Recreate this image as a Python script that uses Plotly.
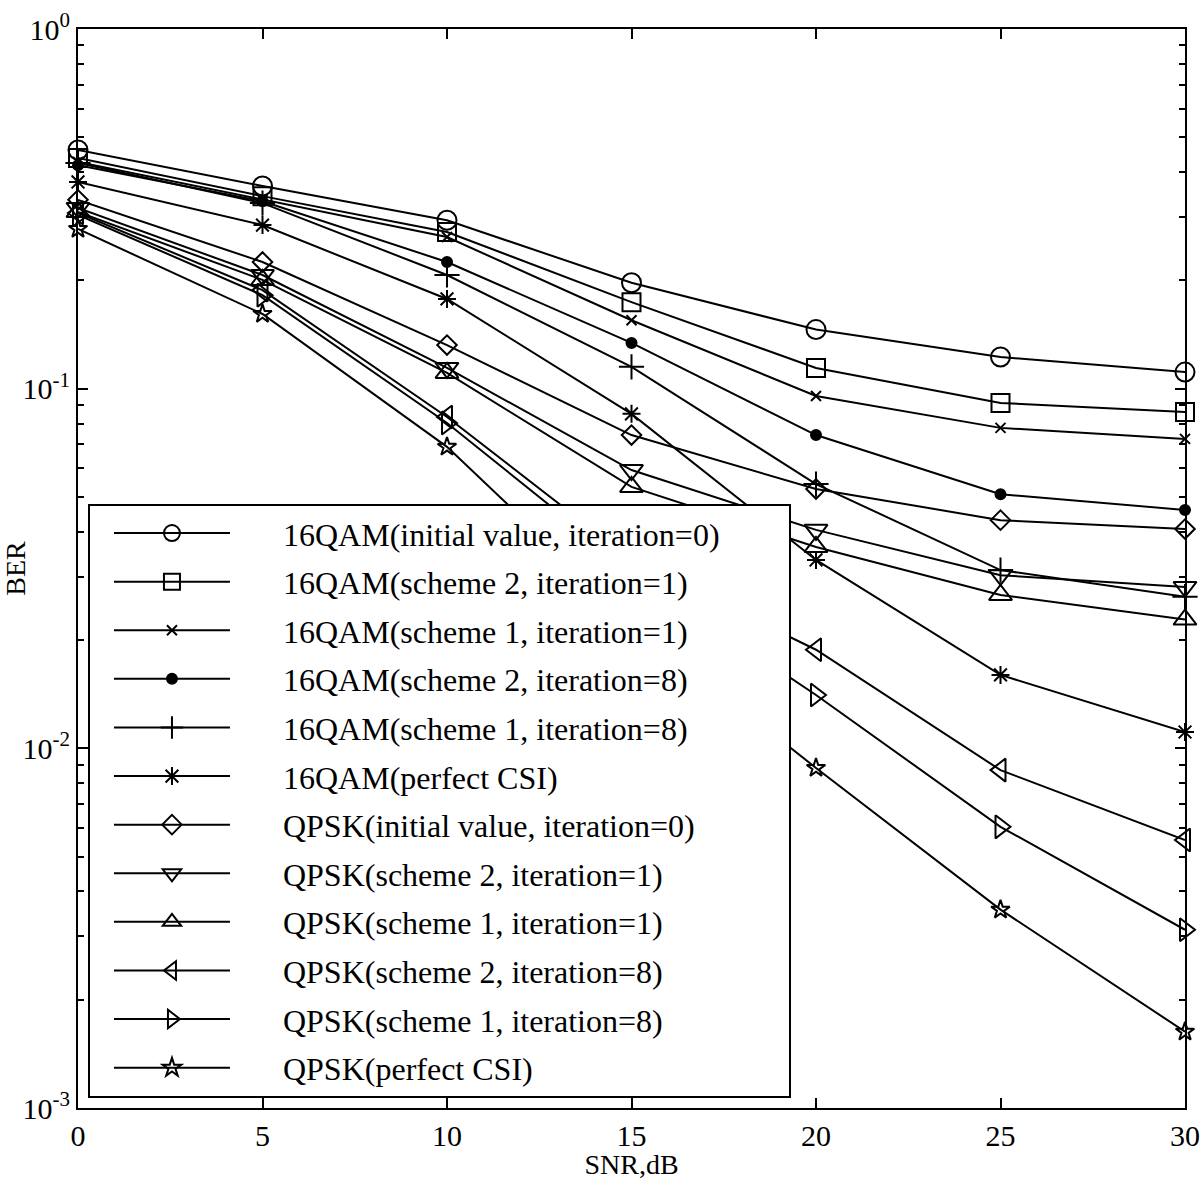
import plotly.graph_objects as go

snr = [0, 5, 10, 15, 20, 25, 30]

names = [
    "16QAM(initial value, iteration=0)",
    "16QAM(scheme 2, iteration=1)",
    "16QAM(scheme 1, iteration=1)",
    "16QAM(scheme 2, iteration=8)",
    "16QAM(scheme 1, iteration=8)",
    "16QAM(perfect CSI)",
    "QPSK(initial value, iteration=0)",
    "QPSK(scheme 2, iteration=1)",
    "QPSK(scheme 1, iteration=1)",
    "QPSK(scheme 2, iteration=8)",
    "QPSK(scheme 1, iteration=8)",
    "QPSK(perfect CSI)",
]

qam_init = [0.461, 0.366, 0.294, 0.197, 0.146, 0.1225, 0.1112]
qam_s2_i1 = [0.438, 0.343, 0.2727, 0.174, 0.1142, 0.0913, 0.0861]
qam_s1_i1 = [0.427, 0.335, 0.264, 0.155, 0.0954, 0.0778, 0.0725]
qam_s2_i8 = [0.418, 0.332, 0.225, 0.134, 0.0743, 0.0509, 0.046]
qam_s1_i8 = [0.424, 0.328, 0.207, 0.115, 0.0543, 0.0313, 0.0264]
qam_csi = [0.3756, 0.285, 0.1776, 0.0851, 0.0334, 0.016, 0.0111]
qpsk_init = [0.335, 0.225, 0.1322, 0.0743, 0.0526, 0.0431, 0.0407]
qpsk_s2_i1 = [0.318, 0.207, 0.1142, 0.0594, 0.0405, 0.0303, 0.0281]
qpsk_s1_i1 = [0.31, 0.2006, 0.1106, 0.0533, 0.0363, 0.0267, 0.0228]
qpsk_s2_i8 = [0.308, 0.188, 0.0834, 0.0334, 0.0188, 0.0087, 0.00556]
qpsk_s1_i8 = [0.304, 0.182, 0.0803, 0.0311, 0.01407, 0.00605, 0.00313]
qpsk_csi = [0.278, 0.1613, 0.0689, 0.02246, 0.00882, 0.00356, 0.00163]

series = [qam_init, qam_s2_i1, qam_s1_i1, qam_s2_i8, qam_s1_i8, qam_csi,
          qpsk_init, qpsk_s2_i1, qpsk_s1_i1, qpsk_s2_i8, qpsk_s1_i8, qpsk_csi]

symbols = ["circle-open", "square-open", "x-thin-open", "circle", "cross-thin-open",
           "asterisk-open", "diamond-open", "triangle-down-open", "triangle-up-open",
           "triangle-left-open", "triangle-right-open", "star-open"]
sizes = [19, 18, 10, 10, 18, 15, 15, 20, 20, 20, 20, 14]

ytick_vals = [1e-3, 1e-2, 1e-1, 1]
ytick_text = ["10<sup>-3</sup>", "10<sup>-2</sup>", "10<sup>-1</sup>", "10<sup>0</sup>"]
minor_vals = [m * 10 ** e for e in (-3, -2, -1) for m in range(2, 10)]

FONT = "Liberation Serif"
NB = "\u00a0"
PAD_L = NB * 6
PAD_R = NB * 8

fig = go.Figure()
for i, (nm, ys) in enumerate(zip(names, series)):
    fig.add_trace(go.Scatter(
        x=snr, y=ys, name=PAD_L + nm + PAD_R, mode="lines+markers",
        legendgroup=f"g{i}",
        line=dict(color="black", width=2),
        marker=dict(symbol=symbols[i], size=sizes[i], color="black",
                    line=dict(color="black", width=2)),
        cliponaxis=False,
    ))

axis_common = dict(
    showline=True, linecolor="black", linewidth=2, mirror="allticks",
    ticks="inside", tickcolor="black", tickwidth=2, ticklen=10,
    showgrid=False, zeroline=False, automargin=False,
    tickfont=dict(family=FONT, size=30, color="black"),
    title_font=dict(family=FONT, size=28, color="black"),
)

fig.update_xaxes(range=[0, 30], tick0=0, dtick=5, title_text="SNR,dB",
                 title_standoff=0, **axis_common)
fig.update_yaxes(type="log", range=[-3, 0], tickvals=ytick_vals, ticktext=ytick_text,
                 title_text="BER", title_standoff=10,
                 minor=dict(tickvals=minor_vals, ticks="inside", ticklen=6,
                            tickcolor="black", tickwidth=2),
                 **axis_common)

fig.update_layout(
    width=1200, height=1180,
    margin=dict(l=78, r=15, t=29, b=72),
    plot_bgcolor="white", paper_bgcolor="white",
    font=dict(family=FONT, color="black"),
    showlegend=True,
    legend=dict(
        x=0.009, y=0.56, xanchor="left", yanchor="top",
        bgcolor="white", bordercolor="black", borderwidth=2,
        font=dict(family=FONT, size=32, color="black"),
        tracegroupgap=4, itemwidth=116, indentation=19,
        itemsizing="trace",
    ),
)

fig.write_html("out.html", config={"displayModeBar": False},
               post_script="document.body.style.margin='0';")
